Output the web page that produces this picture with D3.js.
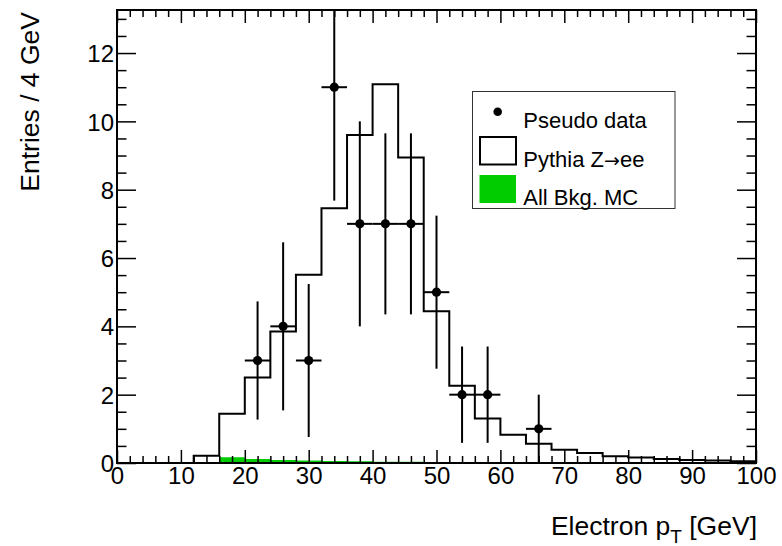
<!DOCTYPE html>
<html>
<head>
<meta charset="utf-8">
<script src="https://cdn.jsdelivr.net/npm/d3@7/dist/d3.min.js"></script>
<style>
  html, body { margin: 0; padding: 0; background: #fff; }
  svg text { font-family: "Liberation Sans", Arial, Helvetica, sans-serif; fill: #000; }
</style>
</head>
<body>
<svg id="chart" width="782" height="546"></svg>
<script>
// ---- data ----
const binLow = [0,4,8,12,16,20,24,28,32,36,40,44,48,52,56,60,64,68,72,76,80,84,88,92,96];
const binWidth = 4;
const signal = [0,0,0,0.21,1.44,2.5,3.85,5.51,7.46,9.6,11.09,8.94,4.44,2.26,1.30,0.83,0.56,0.39,0.29,0.2,0.16,0.12,0.09,0.07,0.05];
const bkg = [0,0,0,0,0.17,0.12,0.09,0.07,0.06,0.05,0.04,0.04,0.03,0.02,0.02,0.015,0.01,0.01,0.01,0.01,0.005,0.005,0.005,0.005,0.005];
const dataX = [22,26,30,34,38,42,46,50,54,58,66];
const dataY = [3,4,3,11,7,7,7,5,2,2,1];
const dataErr = [1.73,2.46,2.24,3.32,3.0,2.65,2.65,2.24,1.41,1.41,1.0];
const xMajorTicks = [0,10,20,30,40,50,60,70,80,90,100];
const yMajorTicks = [0,2,4,6,8,10,12];
const legendLabels = ["Pseudo data", "Pythia Z\u2192ee", "All Bkg. MC"];

// ---- layout ----
const L = 117, R = 756, T = 10, B = 463;
const svg = d3.select("#chart");
const x = d3.scaleLinear().domain([0,100]).range([L,R]);
const y = d3.scaleLinear().domain([0,13.26]).range([B,T]);

svg.append("defs").append("clipPath").attr("id","clip")
  .append("rect").attr("x",L).attr("y",T).attr("width",R-L).attr("height",B-T);

const plot = svg.append("g").attr("clip-path","url(#clip)");

// background MC (green filled)
const bkgArea = [];
binLow.forEach((lo,i)=>{ bkgArea.push([lo,bkg[i]]); bkgArea.push([lo+binWidth,bkg[i]]); });
plot.append("path")
  .datum(bkgArea)
  .attr("fill","#00cc00")
  .attr("d", d3.area().x(d=>x(d[0])).y0(y(0)).y1(d=>y(d[1])));

// signal histogram step outline
const sigPts = [[0,0]];
binLow.forEach((lo,i)=>{ sigPts.push([lo,signal[i]]); sigPts.push([lo+binWidth,signal[i]]); });
sigPts.push([100,0]);
plot.append("path")
  .datum(sigPts)
  .attr("fill","none").attr("stroke","#000").attr("stroke-width",2)
  .attr("d", d3.line().x(d=>x(d[0])).y(d=>y(d[1])));

// data points with errors
const pts = plot.append("g");
dataX.forEach((cx,i)=>{
  pts.append("line").attr("x1",x(cx)).attr("x2",x(cx))
    .attr("y1",y(Math.max(0,dataY[i]-dataErr[i]))).attr("y2",y(dataY[i]+dataErr[i]))
    .attr("stroke","#000").attr("stroke-width",2);
  pts.append("line").attr("x1",x(cx-binWidth/2)).attr("x2",x(cx+binWidth/2))
    .attr("y1",y(dataY[i])).attr("y2",y(dataY[i]))
    .attr("stroke","#000").attr("stroke-width",2);
  pts.append("circle").attr("cx",x(cx)).attr("cy",y(dataY[i])).attr("r",4.6).attr("fill","#000");
});

// ---- axes ----
const xMinor = d3.range(0,101,2).filter(v=>v%10!==0);
const yMinor = d3.range(0,13.26,0.5).filter(v=>v%2!==0);
const axStyle = g => { g.select(".domain").remove(); g.selectAll("line").attr("stroke","#000").attr("stroke-width",1.5); };

svg.append("g").attr("transform",`translate(0,${B})`)
  .call(d3.axisBottom(x).tickValues(xMajorTicks).tickSize(-13).tickPadding(4).tickFormat(d3.format("d")))
  .call(axStyle)
  .call(g=>g.selectAll("text").attr("font-size",24).attr("dy","0.72em"));
svg.append("g").attr("transform",`translate(0,${B})`)
  .call(d3.axisBottom(x).tickValues(xMinor).tickSize(-7).tickFormat(""))
  .call(axStyle);
svg.append("g").attr("transform",`translate(0,${T})`)
  .call(d3.axisTop(x).tickValues(xMajorTicks).tickSize(-13).tickFormat(""))
  .call(axStyle);
svg.append("g").attr("transform",`translate(0,${T})`)
  .call(d3.axisTop(x).tickValues(xMinor).tickSize(-7).tickFormat(""))
  .call(axStyle);

svg.append("g").attr("transform",`translate(${L},0)`)
  .call(d3.axisLeft(y).tickValues(yMajorTicks).tickSize(-19).tickPadding(3).tickFormat(d3.format("d")))
  .call(axStyle)
  .call(g=>g.selectAll("text").attr("font-size",24).attr("dy","0.36em"));
svg.append("g").attr("transform",`translate(${L},0)`)
  .call(d3.axisLeft(y).tickValues(yMinor).tickSize(-9.5).tickFormat(""))
  .call(axStyle);
svg.append("g").attr("transform",`translate(${R},0)`)
  .call(d3.axisRight(y).tickValues(yMajorTicks).tickSize(-19).tickFormat(""))
  .call(axStyle);
svg.append("g").attr("transform",`translate(${R},0)`)
  .call(d3.axisRight(y).tickValues(yMinor).tickSize(-9.5).tickFormat(""))
  .call(axStyle);

// frame
svg.append("rect").attr("x",L).attr("y",T).attr("width",R-L).attr("height",B-T)
  .attr("fill","none").attr("stroke","#000").attr("stroke-width",2);

// axis titles
const xt = svg.append("text").attr("x",R+1).attr("y",535).attr("text-anchor","end").attr("font-size",26.5);
xt.append("tspan").text("Electron p");
xt.append("tspan").attr("font-size",19).attr("dy",8).text("T");
xt.append("tspan").attr("dy",-8).text(" [GeV]");

svg.append("text").attr("transform",`translate(39,${T+2}) rotate(-90)`)
  .attr("text-anchor","end").attr("font-size",26.5).text("Entries / 4 GeV");

// ---- legend ----
const lg = svg.append("g");
lg.append("rect").attr("x",472.5).attr("y",91.5).attr("width",202.5).attr("height",117)
  .attr("fill","#fff").attr("stroke","#333").attr("stroke-width",1);
lg.append("circle").attr("cx",497.7).attr("cy",111.7).attr("r",4.3).attr("fill","#000");
lg.append("rect").attr("x",480).attr("y",137).attr("width",36).attr("height",27.5)
  .attr("fill","#fff").attr("stroke","#000").attr("stroke-width",2);
lg.append("rect").attr("x",479.5).attr("y",175).attr("width",36.5).attr("height",28)
  .attr("fill","#00cc00");
const baselines = [128.3, 166.7, 205];
legendLabels.forEach((t,i)=>{
  const tx = lg.append("text").attr("x",523.3).attr("y",baselines[i]).attr("font-size",22);
  const parts = t.split("\u2192");
  tx.append("tspan").text(parts[0]);
  if (parts.length > 1) {
    tx.append("tspan").attr("font-family","DejaVu Sans").attr("font-size",19).text("\u2192");
    tx.append("tspan").text(parts[1]);
  }
});
</script>
</body>
</html>
